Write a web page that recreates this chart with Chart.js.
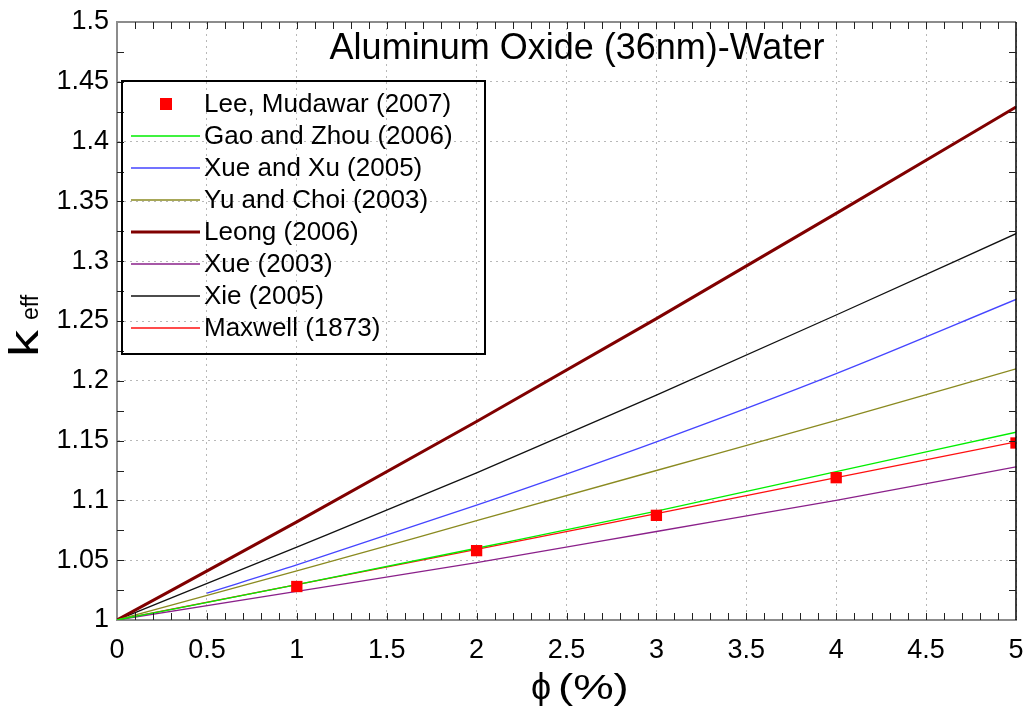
<!DOCTYPE html>
<html>
<head>
<meta charset="utf-8">
<script src="https://cdn.jsdelivr.net/npm/chart.js@4.4.1/dist/chart.umd.min.js"></script>
<style>
  html, body { margin: 0; padding: 0; background: #fff; }
  #wrap { width: 1027px; height: 706px; }
</style>
</head>
<body>
<div id="wrap"><canvas id="c"></canvas></div>
<script>
// x 값 (체적분율 %)
const phi = [0, 1, 2, 3, 4, 5];
const phiXueXu = [0.5, 1, 2, 3, 4, 5];
const phiLee = [1, 2, 3, 4, 5];

// 각 모델의 k_eff 값
const leeMudawar = [1.028, 1.058, 1.0875, 1.119, 1.148];
const gaoZhou   = [1, 1.0295, 1.06, 1.091, 1.124, 1.157];
const xueXu     = [1.0225, 1.046, 1.096, 1.149, 1.206, 1.268];
const yuChoi    = [1, 1.041, 1.083, 1.125, 1.167, 1.21];
const leong     = [1, 1.082, 1.166, 1.252, 1.34, 1.429];
const xue       = [1, 1.024, 1.048, 1.074, 1.1, 1.128];
const xie       = [1, 1.061, 1.123, 1.188, 1.255, 1.323];
const maxwell   = [1, 1.0295, 1.059, 1.089, 1.119, 1.149];

const xTicks = [0, 0.5, 1, 1.5, 2, 2.5, 3, 3.5, 4, 4.5, 5];
const yTicks = [1, 1.05, 1.1, 1.15, 1.2, 1.25, 1.3, 1.35, 1.4, 1.45, 1.5];

const FONT = "'Liberation Sans', Arial, sans-serif";

function pts(xs, ys) {
    return xs.map((x, i) => ({ x: x, y: ys[i] }));
}

function line(label, xs, ys, color, width) {
    return {
        label: label,
        data: pts(xs, ys),
        showLine: true,
        borderColor: color,
        backgroundColor: color,
        borderWidth: width || 1.3,
        pointRadius: 0,
        pointHoverRadius: 0,
        cubicInterpolationMode: 'monotone',
        fill: false
    };
}

// 범례, 제목, 보조 눈금 직접 그리기
const extras = {
    id: 'extras',
    afterDraw(chart) {
        const ctx = chart.ctx;
        const a = chart.chartArea;
        const xs = chart.scales.x, ys = chart.scales.y;
        ctx.save();

        // 위쪽 축 (회색), 오른쪽 축 (검정)
        ctx.strokeStyle = '#8c8c8c';
        ctx.lineWidth = 2;
        ctx.beginPath();
        ctx.moveTo(a.left, a.top);
        ctx.lineTo(a.right, a.top);
        ctx.stroke();
        ctx.strokeStyle = '#000';
        ctx.lineWidth = 1.5;
        ctx.beginPath();
        ctx.moveTo(a.right, a.top);
        ctx.lineTo(a.right, a.bottom);
        ctx.stroke();

        // 안쪽 눈금
        ctx.lineWidth = 1;
        ctx.strokeStyle = '#222';
        ctx.beginPath();
        for (let i = 1; i < 50; i++) {
            const px = Math.round(xs.getPixelForValue(i / 10)) + 0.5;
            ctx.moveTo(px, a.bottom);
            ctx.lineTo(px, a.bottom - 7);
            ctx.moveTo(px, a.top);
            ctx.lineTo(px, a.top + 7);
        }
        for (let i = 1; i < 20; i++) {
            const py = Math.round(ys.getPixelForValue(1 + i * 0.025)) + 0.5;
            ctx.moveTo(a.left, py);
            ctx.lineTo(a.left + 7, py);
            ctx.moveTo(a.right, py);
            ctx.lineTo(a.right - 7, py);
        }
        ctx.stroke();

        // 제목
        ctx.fillStyle = '#000';
        ctx.textAlign = 'center';
        ctx.textBaseline = 'middle';
        ctx.font = '36px ' + FONT;
        ctx.fillText('Aluminum Oxide (36nm)-Water', 577, 49);

        // x축 이름
        ctx.textAlign = 'left';
        ctx.textBaseline = 'alphabetic';
        ctx.font = '36px ' + FONT;
        ctx.fillText('\u03D5', 531, 699);
        ctx.save();
        ctx.translate(558, 699);
        ctx.scale(1.3, 1);
        ctx.font = '35px ' + FONT;
        ctx.fillText('(%)', 0, 0);
        ctx.restore();

        // y축 이름 k_eff
        ctx.save();
        ctx.translate(38, 357);
        ctx.rotate(-Math.PI / 2);
        ctx.textAlign = 'left';
        ctx.textBaseline = 'alphabetic';
        ctx.save();
        ctx.scale(1.35, 1);
        ctx.font = '40px ' + FONT;
        ctx.fillText('k', 0, 0);
        ctx.restore();
        ctx.font = '23px ' + FONT;
        ctx.fillText('eff', 37, 0);
        ctx.restore();

        // 범례
        const box = { l: 122, t: 81, r: 485, b: 354 };
        ctx.strokeStyle = '#000';
        ctx.lineWidth = 2;
        ctx.strokeRect(box.l, box.t, box.r - box.l, box.b - box.t);
        ctx.font = '26px ' + FONT;
        ctx.textAlign = 'left';
        ctx.textBaseline = 'middle';
        chart.data.datasets.forEach((ds, i) => {
            const y = 104 + i * 32;
            if (ds.showLine !== true) {
                ctx.fillStyle = ds.backgroundColor;
                ctx.fillRect(160, y - 6, 12, 12);
            } else {
                ctx.strokeStyle = ds.borderColor;
                ctx.lineWidth = ds.borderWidth;
                ctx.beginPath();
                ctx.moveTo(131, y);
                ctx.lineTo(200, y);
                ctx.stroke();
            }
            ctx.fillStyle = '#000';
            ctx.fillText(ds.label, 204, y + 1);
        });

        ctx.restore();
    }
};

new Chart(document.getElementById('c'), {
    type: 'scatter',
    data: {
        datasets: [
            {
                label: 'Lee, Mudawar (2007)',
                data: pts(phiLee, leeMudawar),
                showLine: false,
                pointStyle: 'rect',
                pointRadius: 8,
                pointHoverRadius: 8,
                backgroundColor: '#ff0000',
                borderColor: '#ff0000',
                borderWidth: 0,
                clip: { left: 0, right: 0, top: 0, bottom: 0 }
            },
            line('Gao and Zhou (2006)', phi, gaoZhou, '#00ee00'),
            line('Xue and Xu (2005)', phiXueXu, xueXu, '#4545ff'),
            line('Yu and Choi (2003)', phi, yuChoi, '#8a8a20'),
            line('Leong (2006)', phi, leong, '#800000', 3),
            line('Xue (2003)', phi, xue, '#8a208a'),
            line('Xie (2005)', phi, xie, '#111111'),
            line('Maxwell (1873)', phi, maxwell, '#ff1010')
        ]
    },
    options: {
        responsive: true,
        maintainAspectRatio: false,
        animation: false,
        layout: { padding: { left: 0, right: 11, top: 22, bottom: 0 } },
        plugins: {
            legend: { display: false },
            tooltip: { enabled: false }
        },
        scales: {
            x: {
                type: 'linear',
                min: 0,
                max: 5,
                afterFit: s => {
                    s.height = 86;
                    s.paddingLeft = 0;
                    s.paddingRight = 0;
                },
                afterBuildTicks: s => { s.ticks = xTicks.map(v => ({ value: v })); },
                ticks: {
                    color: '#000',
                    font: { family: FONT, size: 27 },
                    padding: 14,
                    maxRotation: 0,
                    callback: v => String(v)
                },
                grid: {
                    color: '#b8b8b8',
                    lineWidth: 1,
                    drawTicks: false
                },
                border: { color: '#8c8c8c', width: 2, dash: [2, 4] }
            },
            y: {
                type: 'linear',
                min: 1,
                max: 1.5,
                afterFit: s => {
                    s.width = 117;
                    s.paddingTop = 0;
                    s.paddingBottom = 0;
                },
                afterBuildTicks: s => { s.ticks = yTicks.map(v => ({ value: v })); },
                ticks: {
                    color: '#000',
                    font: { family: FONT, size: 27 },
                    padding: 8,
                    callback: v => String(Math.round(v * 100) / 100)
                },
                grid: {
                    color: '#b8b8b8',
                    lineWidth: 1,
                    drawTicks: false
                },
                border: { color: '#8c8c8c', width: 2, dash: [2, 4] }
            }
        }
    },
    plugins: [extras]
});
</script>
</body>
</html>
